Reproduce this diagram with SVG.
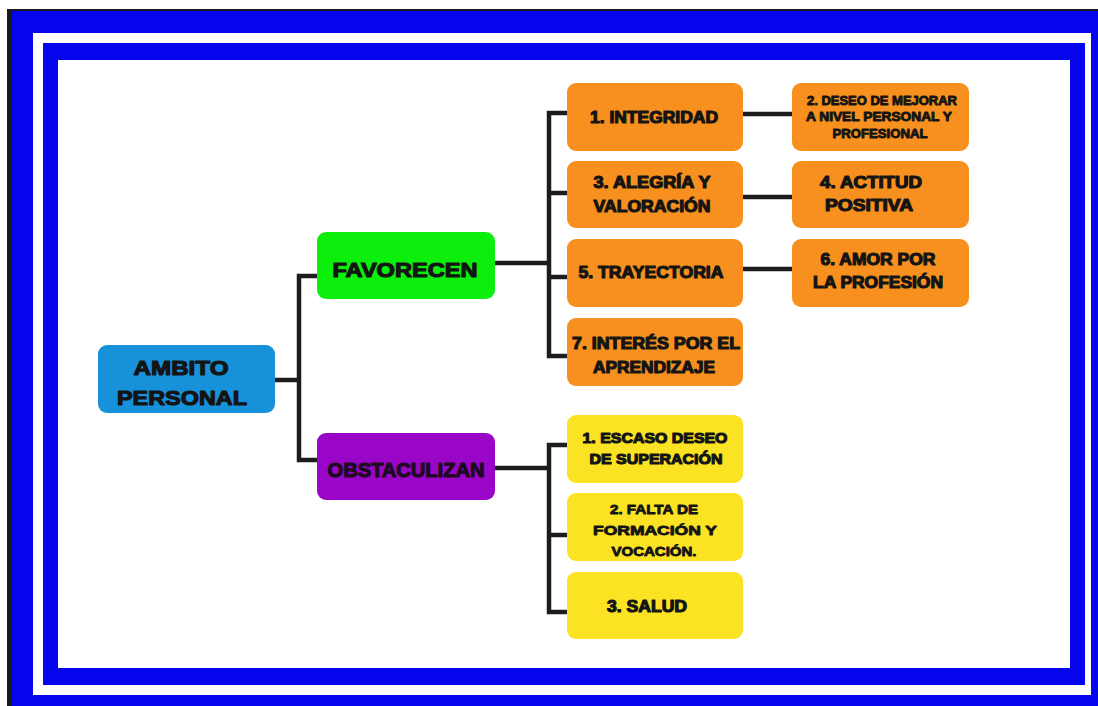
<svg xmlns="http://www.w3.org/2000/svg" width="1098" height="706" viewBox="0 0 1098 706">
  <defs>
    <style>
      .frame-blue { fill: #0606EE; }
      .frame-white { fill: #FDFDFF; }
      .box { stroke: none; }
      .root { fill: #1792DA; }
      .fav { fill: #0CEE0C; }
      .obs { fill: #9A06C8; }
      .org { fill: #F7901F; }
      .yel { fill: #FBE324; }
      .lbl { font-family: "Liberation Sans", Arial, sans-serif; font-weight: bold; fill: #141414; stroke: #141414; stroke-width: 1.15; stroke-linejoin: round; text-anchor: middle; }
      .lbl-sm { stroke-width: 0.85; }
      .lbl-dark { fill: #1E0A22; stroke: #1E0A22; }
      .wire { fill: none; stroke: #1C1C1C; stroke-width: 4.5; stroke-linejoin: miter; stroke-linecap: butt; }
    </style>
  </defs>

  <!-- page background and double blue border -->
  <rect x="0" y="0" width="1098" height="706" fill="#FFFFFF"/>
  <rect x="7" y="9" width="1091" height="697" fill="#1A1A1A"/>
  <rect x="12" y="11" width="1086" height="695" class="frame-blue"/>
  <rect x="33" y="33" width="1058" height="662" class="frame-white"/>
  <rect x="43" y="43" width="1042" height="642" class="frame-blue"/>
  <rect x="58" y="60" width="1012" height="608" fill="#FFFFFF"/>

  <!-- connectors -->
  <g id="connectors">
    <!-- root to first level -->
    <path class="wire" d="M275,380 H299"/>
    <path class="wire" d="M317,276 H299 V460 H317"/>
    <!-- FAVORECEN branch -->
    <path class="wire" d="M495,263 H549"/>
    <path class="wire" d="M567,113 H549 V356 H567"/>
    <path class="wire" d="M549,193 H567"/>
    <path class="wire" d="M549,277 H567"/>
    <!-- second column links -->
    <path class="wire" d="M743,114 H792"/>
    <path class="wire" d="M743,197 H792"/>
    <path class="wire" d="M743,269 H792"/>
    <!-- OBSTACULIZAN branch -->
    <path class="wire" d="M495,468 H549"/>
    <path class="wire" d="M567,445 H549 V612 H567"/>
    <path class="wire" d="M549,535 H567"/>
  </g>

  <!-- root -->
  <g id="node-ambito">
    <rect class="box root" x="98" y="345" width="177" height="68" rx="9"/>
    <text class="lbl" x="181" y="375" font-size="20.5" textLength="95" lengthAdjust="spacingAndGlyphs">AMBITO</text>
    <text class="lbl" x="182" y="405" font-size="20.5" textLength="130" lengthAdjust="spacingAndGlyphs">PERSONAL</text>
  </g>

  <!-- first level -->
  <g id="node-favorecen">
    <rect class="box fav" x="317" y="232" width="178" height="67" rx="9"/>
    <text class="lbl" x="405" y="277" font-size="20" textLength="145" lengthAdjust="spacingAndGlyphs">FAVORECEN</text>
  </g>
  <g id="node-obstaculizan">
    <rect class="box obs" x="317" y="433" width="178" height="67" rx="9"/>
    <text class="lbl lbl-dark" x="406" y="477" font-size="20" textLength="157" lengthAdjust="spacingAndGlyphs">OBSTACULIZAN</text>
  </g>

  <!-- favourable factors -->
  <g id="node-integridad">
    <rect class="box org" x="567" y="83" width="176" height="68" rx="9"/>
    <text class="lbl" x="654" y="123" font-size="16.5" textLength="128" lengthAdjust="spacingAndGlyphs">1. INTEGRIDAD</text>
  </g>
  <g id="node-deseo-mejorar">
    <rect class="box org" x="792" y="83" width="177" height="68" rx="9"/>
    <text class="lbl lbl-sm" x="882" y="105" font-size="12.2" textLength="150" lengthAdjust="spacingAndGlyphs">2. DESEO DE MEJORAR</text>
    <text class="lbl lbl-sm" x="879" y="121" font-size="12.2" textLength="146" lengthAdjust="spacingAndGlyphs">A NIVEL PERSONAL Y</text>
    <text class="lbl lbl-sm" x="880" y="138" font-size="12.2" textLength="95" lengthAdjust="spacingAndGlyphs">PROFESIONAL</text>
  </g>
  <g id="node-alegria">
    <rect class="box org" x="567" y="161" width="176" height="67" rx="9"/>
    <text class="lbl" x="652" y="188" font-size="16.5" textLength="117" lengthAdjust="spacingAndGlyphs">3. ALEGRÍA Y</text>
    <text class="lbl" x="652" y="212" font-size="16.5" textLength="117" lengthAdjust="spacingAndGlyphs">VALORACIÓN</text>
  </g>
  <g id="node-actitud">
    <rect class="box org" x="792" y="161" width="177" height="67" rx="9"/>
    <text class="lbl" x="871" y="188" font-size="16.5" textLength="102" lengthAdjust="spacingAndGlyphs">4. ACTITUD</text>
    <text class="lbl" x="869" y="211" font-size="16.5" textLength="88" lengthAdjust="spacingAndGlyphs">POSITIVA</text>
  </g>
  <g id="node-trayectoria">
    <rect class="box org" x="567" y="239" width="176" height="68" rx="9"/>
    <text class="lbl" x="651" y="278" font-size="16.5" textLength="145" lengthAdjust="spacingAndGlyphs">5. TRAYECTORIA</text>
  </g>
  <g id="node-amor">
    <rect class="box org" x="792" y="239" width="177" height="68" rx="9"/>
    <text class="lbl" x="878" y="265" font-size="16.5" textLength="115" lengthAdjust="spacingAndGlyphs">6. AMOR POR</text>
    <text class="lbl" x="878" y="288" font-size="16.5" textLength="130" lengthAdjust="spacingAndGlyphs">LA PROFESIÓN</text>
  </g>
  <g id="node-interes">
    <rect class="box org" x="567" y="318" width="176" height="68" rx="9"/>
    <text class="lbl" x="656" y="349" font-size="16.5" textLength="168" lengthAdjust="spacingAndGlyphs">7. INTERÉS POR EL</text>
    <text class="lbl" x="654" y="373" font-size="16.5" textLength="122" lengthAdjust="spacingAndGlyphs">APRENDIZAJE</text>
  </g>

  <!-- hindering factors -->
  <g id="node-escaso">
    <rect class="box yel" x="567" y="415" width="176" height="68" rx="9"/>
    <text class="lbl" x="655" y="443" font-size="15" textLength="145" lengthAdjust="spacingAndGlyphs">1. ESCASO DESEO</text>
    <text class="lbl" x="656" y="464" font-size="15" textLength="133" lengthAdjust="spacingAndGlyphs">DE SUPERACIÓN</text>
  </g>
  <g id="node-falta">
    <rect class="box yel" x="567" y="493" width="176" height="68" rx="9"/>
    <text class="lbl lbl-sm" x="654" y="514" font-size="13.5" textLength="88" lengthAdjust="spacingAndGlyphs">2. FALTA DE</text>
    <text class="lbl lbl-sm" x="655" y="535" font-size="13.5" textLength="124" lengthAdjust="spacingAndGlyphs">FORMACIÓN Y</text>
    <text class="lbl lbl-sm" x="654" y="556" font-size="13.5" textLength="85" lengthAdjust="spacingAndGlyphs">VOCACIÓN.</text>
  </g>
  <g id="node-salud">
    <rect class="box yel" x="567" y="572" width="176" height="67" rx="9"/>
    <text class="lbl" x="647" y="612" font-size="16.5" textLength="80" lengthAdjust="spacingAndGlyphs">3. SALUD</text>
  </g>
</svg>
